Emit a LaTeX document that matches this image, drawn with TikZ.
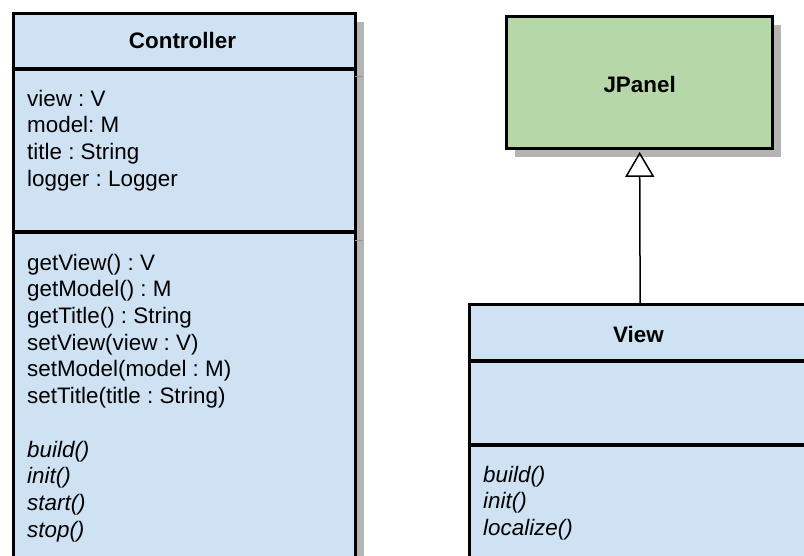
\documentclass[tikz,border=0pt]{standalone}
\usepackage{fontspec}
\setmainfont{Liberation Sans}
\usetikzlibrary{arrows.meta,shadows}
\frenchspacing

\definecolor{umlblue}{HTML}{CFE2F3}
\definecolor{umlgreen}{HTML}{B6D7A8}
\definecolor{shadegray}{HTML}{B4B4B4}
\definecolor{shadeline}{HTML}{999999}

\tikzset{
  classbox/.style={draw=black, line width=3.3pt, fill=umlblue, inner sep=0pt,
    anchor=north west,
    drop shadow={shadow xshift=8.5pt, shadow yshift=-8.5pt, opacity=1, fill=shadegray}},
  divider/.style={draw=black, line width=3.3pt},
  shadowrule/.style={draw=shadeline, line width=1pt},
  classname/.style={font=\fontsize{22.4}{26.7}\selectfont\bfseries, inner sep=0pt, anchor=base},
  members/.style={font=\fontsize{22.4}{26.7}\selectfont, align=left, inner sep=0pt, anchor=north west},
  inherits/.style={draw=black, line width=1.5pt, shorten >=1.6pt,
    -{Triangle[open, length=25pt, width=29pt, line width=1.5pt]}}
}

\begin{document}
\begin{tikzpicture}[x=1pt, y=-1pt]
\useasboundingbox (0,0) rectangle (804,555);
\clip (0,0) rectangle (804,555);

% ---------- Controller ----------
\node[classbox, minimum width=342pt, minimum height=560pt] (ctrl) at (11.5,11.7) {};
\draw[divider] (11.5,69) -- (353.5,69);
\draw[divider] (11.5,232) -- (353.5,232);
\draw[shadowrule] (355.2,76.5) -- (362.5,76.5);
\draw[shadowrule] (355.2,240) -- (362.5,240);
\node[classname] (ctrlname) at (182.5,48) {Controller};
\node[members] (ctrlattr) at (27,87.3) {\strut view : V\\ model: M\\ title : String\\ logger : Logger};
\node[members] (ctrlops) at (27,251.3) {\strut getView() : V\\ getModel() : M\\ getTitle() : String\\
  setView(view : V)\\ setModel(model : M)\\ setTitle(title : String)\\ \strut\\
  \itshape build()\\ \itshape init()\\ \itshape start()\\ \itshape stop()};

% ---------- JPanel ----------
\node[classbox, fill=umlgreen, minimum width=266pt, minimum height=132pt,
  font=\fontsize{22.4}{26.7}\selectfont\bfseries, text height=19pt, text depth=0pt]
  (jpanel) at (505,15) {JPanel};

% ---------- View ----------
\node[classbox, minimum width=342pt, minimum height=270pt] (view) at (467.5,303) {};
\draw[divider] (467.5,361) -- (809.5,361);
\draw[divider] (467.5,445) -- (809.5,445);
\node[classname] (viewname) at (638.5,342) {View};
\node[members] (viewops) at (483,463.3) {\strut\itshape build()\\ \itshape init()\\ \itshape localize()};

% ---------- generalisation ----------
\draw[inherits] (view.north) -- (jpanel.south);
\end{tikzpicture}
\end{document}
